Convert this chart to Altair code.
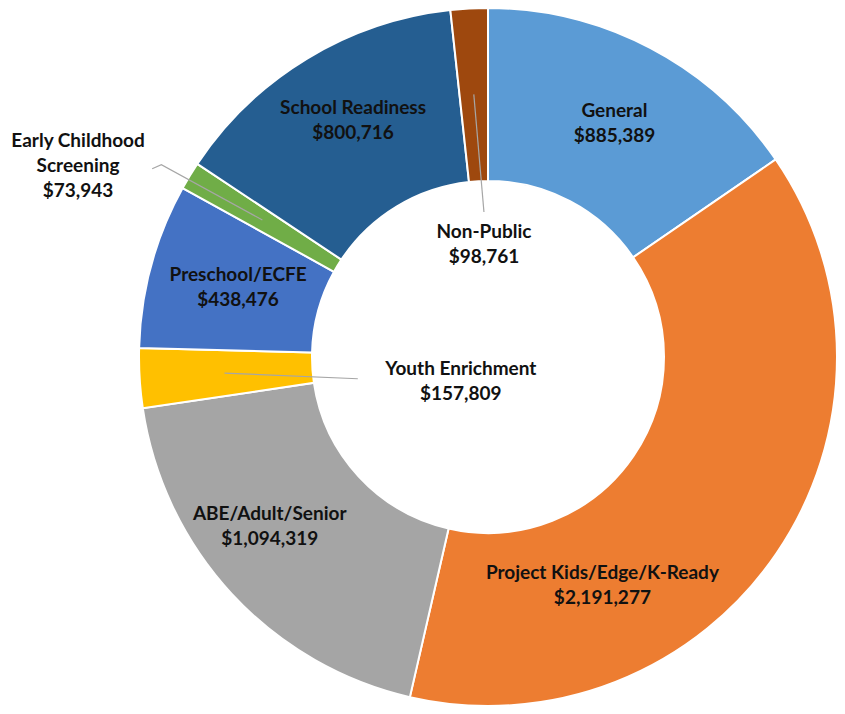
import math
import altair as alt
import pandas as pd

# ---- data ----
categories = ["General", "Project Kids/Edge/K-Ready", "ABE/Adult/Senior", "Youth Enrichment",
              "Preschool/ECFE", "Early Childhood Screening", "School Readiness", "Non-Public"]
label_names = ["General", "Project Kids/Edge/K-Ready", "ABE/Adult/Senior", "Youth Enrichment",
               "Preschool/ECFE", "Early Childhood\nScreening", "School Readiness", "Non-Public"]
values = [885389, 2191277, 1094319, 157809, 438476, 73943, 800716, 98761]
colors = ["#5B9BD5", "#ED7D31", "#A5A5A5", "#FFC000", "#4472C4", "#70AD47", "#255E91", "#9E480E"]

# ---- layout (label placement relative to slice mid-angle) ----
CX, CY = 480, 349
R_IN, R_OUT = 176, 349
LINE_H = 25
LABEL_DY = 2
label_nudge_deg = [0.5, 29, 5.3, -35.6, 0.8, -6.1, 1.8, 1.1]
label_radius = [267, 254, 275, 35, 260, 453, 274, 115]
# leader lines: list of (angle nudge deg, radius) points from slice mid-angle
leaders = {
    "Youth Enrichment": [(0, 264), (-6, 132)],
    "Non-Public": [(0, 263), (1.5, 145)],
    "Early Childhood Screening": [(0, 264), (-0.8, 379), (-2.0, 385)],
}

total = sum(values)
mids = []
acc = 0
for v in values:
    mids.append((acc + v / 2) / total * 2 * math.pi)
    acc += v

labels_txt = [f"{n}\n${v:,}" for n, v in zip(label_names, values)]
lx, ly = [], []
for m, d, r, t in zip(mids, label_nudge_deg, label_radius, labels_txt):
    a = m + math.radians(d)
    nlines = t.count("\n") + 1
    lx.append(CX + r * math.sin(a))
    ly.append(CY - r * math.cos(a) - (nlines - 1) * LINE_H / 2 + LABEL_DY)

df = pd.DataFrame({
    "cat": categories,
    "value": values,
    "idx": list(range(len(values))),
    "label": labels_txt,
    "lx": lx,
    "ly": ly,
})

rows = []
for cat, pts in leaders.items():
    i = categories.index(cat)
    for k, (d, r) in enumerate(pts):
        a = mids[i] + math.radians(d)
        rows.append({"cat": cat, "k": k,
                     "px": CX + r * math.sin(a), "py": CY - r * math.cos(a)})
lead_df = pd.DataFrame(rows)

base = alt.Chart(df)

arcs = base.mark_arc(innerRadius=R_IN, outerRadius=R_OUT, stroke="white", strokeWidth=2).encode(
    theta=alt.Theta("value:Q", stack=True),
    order=alt.Order("idx:Q"),
    color=alt.Color("cat:N", scale=alt.Scale(domain=categories, range=colors), legend=None),
    x=alt.value(CX),
    y=alt.value(CY),
)

lines = alt.Chart(lead_df).mark_line(color="#A6A6A6", strokeWidth=1.2).encode(
    x=alt.X("px:Q", scale=None),
    y=alt.Y("py:Q", scale=None),
    detail="cat:N",
    order="k:Q",
)

labels = base.mark_text(font="Lato", fontSize=19, fontWeight="bold", color="#111111",
                        lineBreak="\n", lineHeight=LINE_H, align="center", baseline="middle").encode(
    text="label:N",
    x=alt.X("lx:Q", scale=None),
    y=alt.Y("ly:Q", scale=None),
)

chart = alt.layer(arcs, lines, labels).properties(
    width=829, height=698, padding=0,
    autosize=alt.AutoSizeParams(type="none"),
).configure_view(stroke=None)

chart.save("out.html", embed_options={"renderer": "svg", "actions": False})
